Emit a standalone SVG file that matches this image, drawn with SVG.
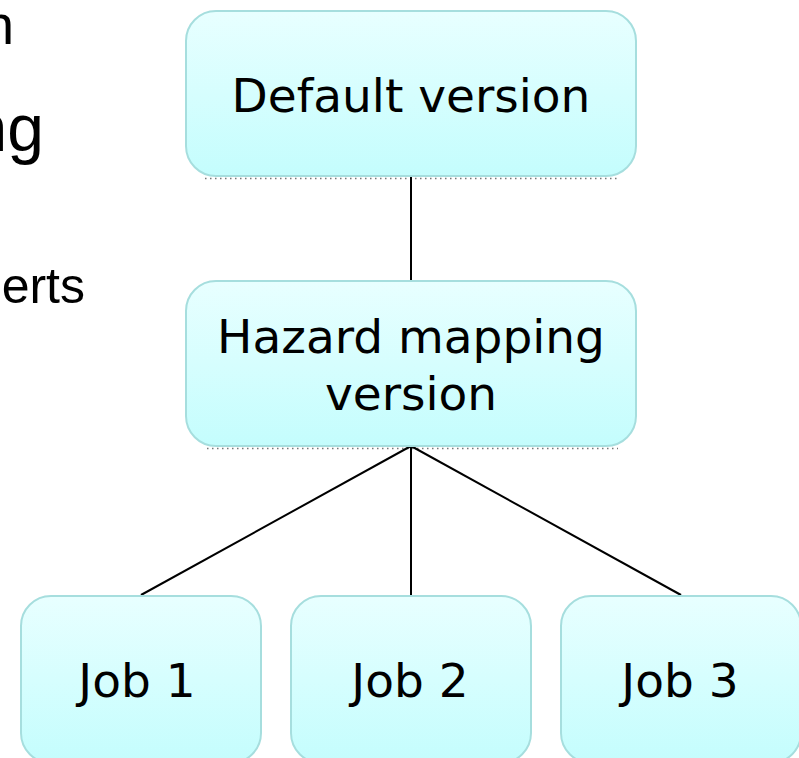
<svg xmlns="http://www.w3.org/2000/svg" width="799" height="758" viewBox="0 0 799 758">
<defs>
<linearGradient id="fillGrad" x1="0" y1="0" x2="0" y2="1">
<stop offset="0" stop-color="#E8FFFF"/>
<stop offset="1" stop-color="#C4FDFD"/>
</linearGradient>
<style>
.box{fill:url(#fillGrad);stroke:#A6DEDE;stroke-width:2}
.lbl{font-family:"DejaVu Sans",Verdana,sans-serif;font-size:47px;fill:#000;text-anchor:middle}
.side{font-family:"Liberation Sans",Arial,sans-serif;fill:#000;text-anchor:end}
.conn{stroke:#000;stroke-width:2;fill:none}
.shadow{stroke:#777;stroke-width:1.5;stroke-dasharray:1.5 3.5;fill:none}
</style>
</defs>
<rect width="799" height="758" fill="#fff"/>
<g id="side-text">
<text class="side" x="14" y="44" font-size="55">n</text>
<text class="side" x="44" y="151" font-size="66">ng</text>
<text class="side" x="85" y="303" font-size="50">erts</text>
</g>
<g id="shadows">
<line class="shadow" x1="205" y1="178.5" x2="618" y2="178.5"/>
<line class="shadow" x1="207" y1="448.5" x2="618" y2="448.5"/>
</g>
<g id="connectors">
<line class="conn" x1="411" y1="176" x2="411" y2="280"/>
<line class="conn" x1="411" y1="446" x2="141" y2="595"/>
<line class="conn" x1="411" y1="446" x2="411" y2="595"/>
<line class="conn" x1="411" y1="446" x2="681" y2="595"/>
</g>
<g id="node-default">
<rect class="box" x="186" y="11" width="450" height="165" rx="30"/>
<text class="lbl" x="411" y="112">Default version</text>
</g>
<g id="node-hazard">
<rect class="box" x="186" y="281" width="450" height="165" rx="30"/>
<text class="lbl" x="411" y="353">Hazard mapping</text>
<text class="lbl" x="411" y="410">version</text>
</g>
<g id="node-job1">
<rect class="box" x="21" y="596" width="240" height="167" rx="30"/>
<text class="lbl" x="137" y="697">Job 1</text>
</g>
<g id="node-job2">
<rect class="box" x="291" y="596" width="240" height="167" rx="30"/>
<text class="lbl" x="410" y="697">Job 2</text>
</g>
<g id="node-job3">
<rect class="box" x="561" y="596" width="240" height="167" rx="30"/>
<text class="lbl" x="680" y="697">Job 3</text>
</g>
</svg>
